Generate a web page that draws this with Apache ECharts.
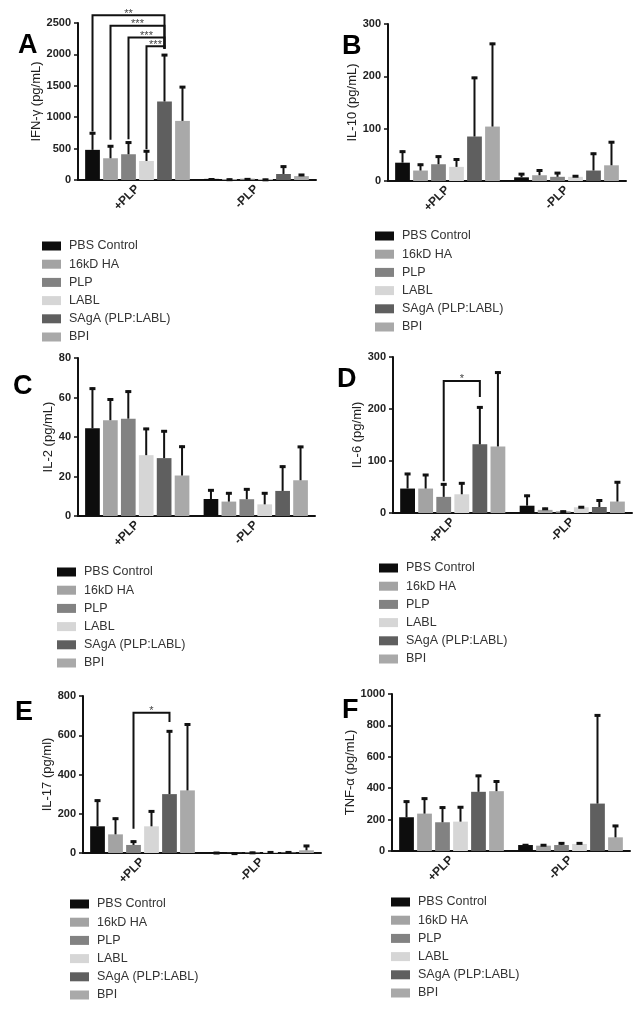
<!DOCTYPE html>
<html><head><meta charset="utf-8">
<script src="https://cdn.jsdelivr.net/npm/echarts@6/dist/echarts.min.js"></script>
<style>html,body{margin:0;padding:0;background:#fff}#c{width:641px;height:1016px}</style>
</head><body><div id="c"></div>
<script>
// ---------- data ----------
const categories = ['+PLP', '-PLP'];
const groups = ['PBS Control', '16kD HA', 'PLP', 'LABL', 'SAgA (PLP:LABL)', 'BPI'];
const groupColors = ['#0d0d0d', '#a3a3a3', '#828282', '#d6d6d6', '#5f5f5f', '#a9a9a9'];

// A  IFN-γ
const ifnPlus = [480, 346, 410, 303, 1250, 941];
const ifnPlusSd = [280, 207, 202, 170, 755, 554];
const ifnMinus = [18, 16, 20, 14, 96, 62];
const ifnMinusSd = [6, 5, 6, 5, 133, 34];
const ifnSig = [[0, 4, 771, 2622, 2090], [1, 4, 640, 2457, 2090], [2, 4, 650, 2271, 2090], [3, 4, 489, 2128, 2090]];
const ifnSigLabels = ['**', '***', '***', '***'];
// B  IL-10
const il10Plus = [35, 20, 32, 27, 85, 104];
const il10PlusSd = [23, 13, 16.5, 16, 114, 160];
const il10Minus = [7, 11, 8, 8, 20, 30];
const il10MinusSd = [8, 11, 9, 3, 34, 46];
// C  IL-2
const il2Plus = [44.4, 48.5, 49.3, 30.8, 29.3, 20.5];
const il2PlusSd = [20.6, 11, 14.2, 13.8, 14.1, 15.1];
const il2Minus = [8.6, 7.3, 8.5, 5.9, 12.7, 18.1];
const il2MinusSd = [4.9, 4.7, 5.5, 6.1, 12.8, 17.4];
// D  IL-6
const il6Plus = [47, 47, 31, 36, 132, 128];
const il6PlusSd = [30, 28, 26, 23, 73, 144];
const il6Minus = [14, 6, 3, 11, 11.5, 22];
const il6MinusSd = [21, 4, 1.5, 2, 14.5, 39];
const il6Sig = [[2, 4, 61, 254, 223]];
const il6SigLabels = ['*'];
// E  IL-17
const il17Plus = [136, 95, 41, 136, 300, 319];
const il17PlusSd = [136, 85, 22, 81, 325, 341];
const il17Minus = [3, 1, 4, 5, 5, 14];
const il17MinusSd = [2, 1, 2, 3, 3, 27];
const il17Sig = [[2, 4, 124, 715, 667]];
const il17SigLabels = ['*'];
// F  TNF-α
const tnfPlus = [215, 238, 183, 187, 377, 381];
const tnfPlusSd = [106, 102, 100, 98, 108, 68];
const tnfMinus = [38, 34, 38, 45, 302, 87];
const tnfMinusSd = [5, 9, 17, 10, 568, 79];

const panelLetters = ['A', 'B', 'C', 'D', 'E', 'F'];
const axisNames = ['IFN-γ (pg/mL)', 'IL-10 (pg/mL)', 'IL-2 (pg/mL)', 'IL-6 (pg/ml)', 'IL-17 (pg/ml)', 'TNF-α (pg/mL)'];
const yMax = [2500, 300, 80, 300, 800, 1000];
const yInterval = [500, 100, 20, 100, 200, 200];

// ---------- layout ----------
const FONT = '"Liberation Sans", Arial, sans-serif';
const CAT_GAP = 0.12, BAR_GAP = 0.22;
const panels = [
  { plus: ifnPlus, plusSd: ifnPlusSd, minus: ifnMinus, minusSd: ifnMinusSd, sig: ifnSig, sigLabels: ifnSigLabels,
    grid: { left: 78, top: 23, width: 238, height: 157 }, nameGap: 31, legend: { left: 42, top: 239 }, letter: [18, 32] },
  { plus: il10Plus, plusSd: il10PlusSd, minus: il10Minus, minusSd: il10MinusSd,
    grid: { left: 388, top: 24, width: 238, height: 157 }, nameGap: 27, legend: { left: 375, top: 229 }, letter: [342, 33] },
  { plus: il2Plus, plusSd: il2PlusSd, minus: il2Minus, minusSd: il2MinusSd,
    grid: { left: 78, top: 358, width: 237, height: 158 }, nameGap: 21, legend: { left: 57, top: 565 }, letter: [13, 373] },
  { plus: il6Plus, plusSd: il6PlusSd, minus: il6Minus, minusSd: il6MinusSd, sig: il6Sig, sigLabels: il6SigLabels,
    grid: { left: 393, top: 357, width: 239, height: 156 }, nameGap: 25, legend: { left: 379, top: 561 }, letter: [337, 366] },
  { plus: il17Plus, plusSd: il17PlusSd, minus: il17Minus, minusSd: il17MinusSd, sig: il17Sig, sigLabels: il17SigLabels,
    grid: { left: 83, top: 696, width: 238, height: 157 }, nameGap: 28, legend: { left: 70, top: 897 }, letter: [15, 699] },
  { plus: tnfPlus, plusSd: tnfPlusSd, minus: tnfMinus, minusSd: tnfMinusSd,
    grid: { left: 392, top: 694, width: 238, height: 157 }, nameGap: 34, legend: { left: 391, top: 895 }, letter: [342, 697] }
];

function barCenter(api, cat, bi) {
  const c = api.coord([cat, 0])[0];
  const band = api.size([1, 0])[0];
  const used = band * (1 - CAT_GAP);
  const w = used / (6 + 5 * BAR_GAP);
  return c - used / 2 + bi * w * (1 + BAR_GAP) + w / 2;
}

function errRender(params, api) {
  const cat = api.value(0), bi = api.value(1), v = api.value(2), t = api.value(3);
  const x = barCenter(api, cat, bi);
  const y0 = api.coord([cat, v])[1];
  const y1 = api.coord([cat, t])[1];
  return { type: 'group', children: [
    { type: 'line', shape: { x1: x, y1: y0, x2: x, y2: y1 }, style: { stroke: '#111', lineWidth: 2 } },
    { type: 'line', shape: { x1: x - 3, y1: y1 + 1, x2: x + 3, y2: y1 + 1 }, style: { stroke: '#111', lineWidth: 3 } }
  ] };
}

function makeSigRender(labels) {
  return function (params, api) {
    const a = api.value(1), b = api.value(2);
    const xa = barCenter(api, 0, a), xb = barCenter(api, 0, b);
    const yl = api.coord([0, api.value(3)])[1];
    const yt = api.coord([0, api.value(4)])[1];
    const yr = api.coord([0, api.value(5)])[1];
    return { type: 'group', children: [
      { type: 'polyline', shape: { points: [[xa, yl], [xa, yt], [xb, yt], [xb, yr]] },
        style: { stroke: '#111', lineWidth: 2, fill: null } },
      { type: 'text', style: { text: labels[params.dataIndex], x: (xa + xb) / 2, y: yt + 4,
        align: 'center', verticalAlign: 'bottom', fontSize: 11, fontFamily: FONT, fill: '#444' } }
    ] };
  };
}

const option = { animation: false, backgroundColor: '#fff', grid: [], xAxis: [], yAxis: [], series: [], legend: [], graphic: [] };

panels.forEach((p, i) => {
  option.grid.push(Object.assign({ containLabel: false, outerBoundsMode: 'none' }, p.grid));
  option.xAxis.push({
    type: 'category', gridIndex: i, data: categories,
    axisLine: { lineStyle: { color: '#111', width: 2 } },
    axisTick: { alignWithLabel: true, length: 4, lineStyle: { color: '#111', width: 1.5 } },
    axisLabel: { rotate: 45, margin: 7, fontSize: 12, fontWeight: 'bold', color: '#222', fontFamily: FONT },
    splitLine: { show: false }
  });
  option.yAxis.push({
    type: 'value', gridIndex: i, min: 0, max: yMax[i], interval: yInterval[i],
    name: axisNames[i], nameLocation: 'middle', nameGap: p.nameGap, nameRotate: 90,
    nameTextStyle: { fontSize: 13, color: '#222', fontFamily: FONT },
    axisLine: { show: true, lineStyle: { color: '#111', width: 2 } },
    axisTick: { show: true, length: 4, lineStyle: { color: '#111', width: 1.5 } },
    axisLabel: { margin: 7, fontSize: 11, fontWeight: 'bold', color: '#222', fontFamily: FONT,
      formatter: v => String(v) },
    splitLine: { show: false }
  });
  groups.forEach((g, gi) => {
    option.series.push({
      type: 'bar', name: g, xAxisIndex: i, yAxisIndex: i,
      data: [p.plus[gi], p.minus[gi]],
      itemStyle: { color: groupColors[gi] },
      barCategoryGap: (CAT_GAP * 100) + '%', barGap: (BAR_GAP * 100) + '%',
      emphasis: { disabled: true }
    });
  });
  const errData = [];
  groups.forEach((g, gi) => {
    errData.push([0, gi, p.plus[gi], p.plus[gi] + p.plusSd[gi]]);
    errData.push([1, gi, p.minus[gi], p.minus[gi] + p.minusSd[gi]]);
  });
  option.series.push({ type: 'custom', xAxisIndex: i, yAxisIndex: i, z: 5, data: errData,
    encode: { x: 0, y: [2, 3] }, renderItem: errRender, silent: true });
  if (p.sig) {
    option.series.push({ type: 'custom', xAxisIndex: i, yAxisIndex: i, z: 6,
      data: p.sig.map(s => [0].concat(s)), encode: { x: 0, y: [3, 4, 5] },
      renderItem: makeSigRender(p.sigLabels), silent: true, clip: false });
  }
  option.legend.push({
    orient: 'vertical', left: p.legend.left, top: p.legend.top, padding: 0,
    data: groups, icon: 'rect', itemWidth: 19, itemHeight: 9, itemGap: 4.2, selectedMode: false,
    textStyle: { fontSize: 12.5, color: '#333', fontFamily: FONT, lineHeight: 14, padding: [0, 0, 0, 3] }
  });
  option.graphic.push({ type: 'text', x: p.letter[0], y: p.letter[1],
    style: { text: panelLetters[i], fontSize: 27, fontWeight: 'bold', fontFamily: FONT, fill: '#000',
      verticalAlign: 'alphabetic', textBaseline: 'alphabetic' } });
});

const chart = echarts.init(document.getElementById('c'), null, { renderer: 'canvas' });
chart.setOption(option);
</script>
</body></html>
